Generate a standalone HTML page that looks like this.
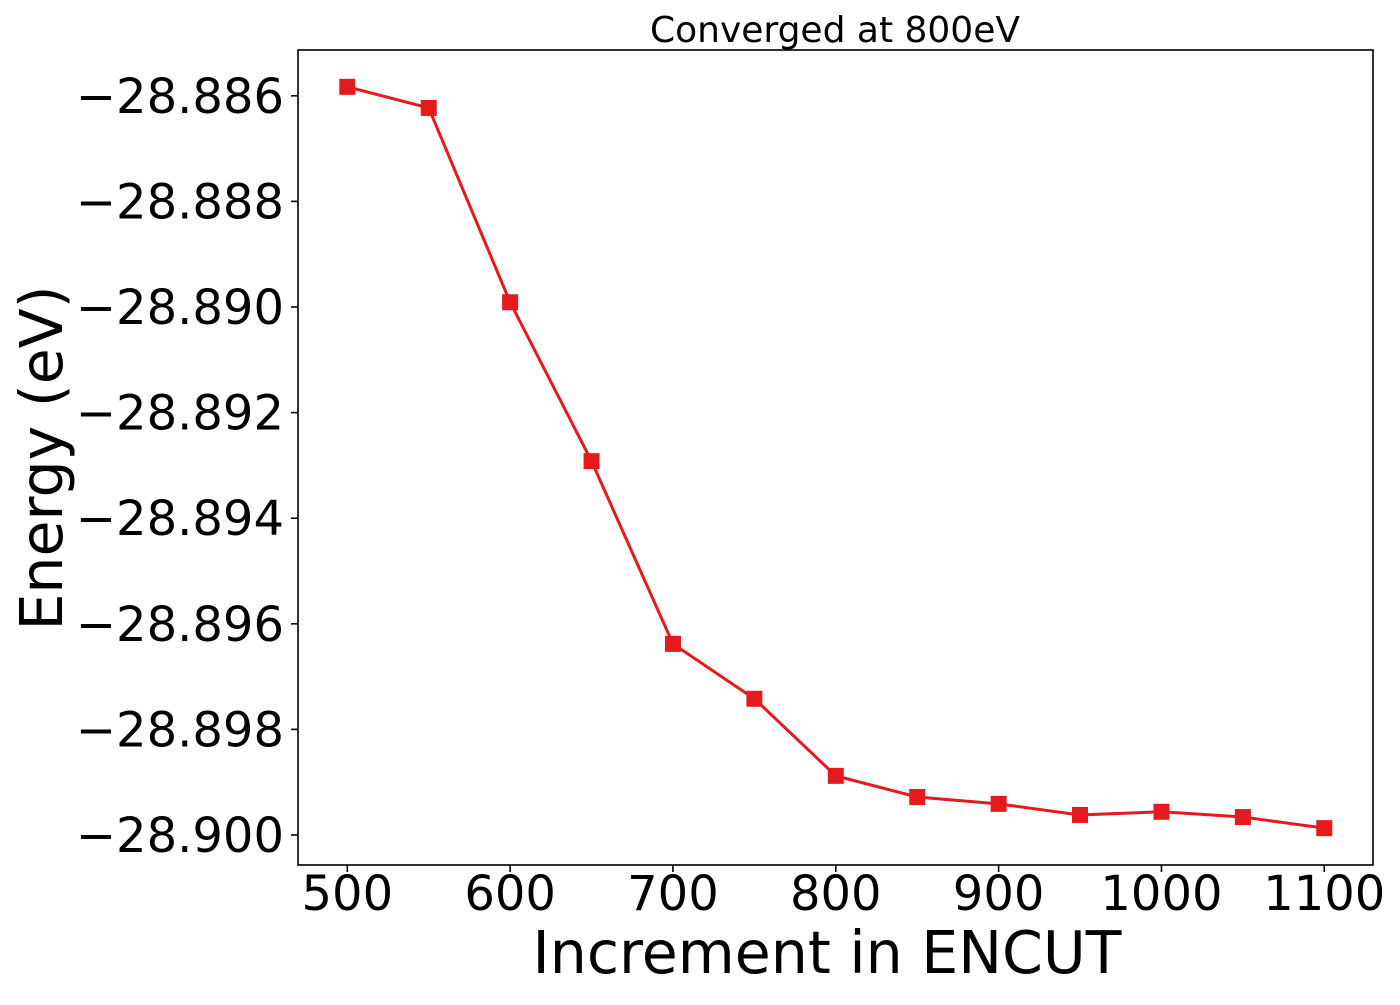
<!DOCTYPE html>
<html><head><meta charset="utf-8"><style>
html,body{margin:0;padding:0;background:#fff;}
svg text{font-family:"DejaVu Sans","Liberation Sans",sans-serif;fill:#000;}
</style></head><body>
<svg id="chart" width="1400" height="1000" xmlns="http://www.w3.org/2000/svg">
<text x="835" y="42" font-size="36" text-anchor="middle">Converged at 800eV</text>
<text x="827" y="973" font-size="58.5" text-anchor="middle">Increment in ENCUT</text>
<text transform="translate(62,458) rotate(-90)" font-size="58.5" text-anchor="middle">Energy (eV)</text>
<g id="xticks"></g>
<g id="yticks"></g>
<g id="series"></g>
<rect x="298" y="50" width="1075" height="815" fill="none" stroke="#000" stroke-width="1.6"/>
</svg>
<script>
const encut = [500,550,600,650,700,750,800,850,900,950,1000,1050,1100];
const energy = [-28.88583,-28.88623,-28.88991,-28.89292,-28.89638,-28.89742,-28.89888,-28.89928,-28.89941,-28.89962,-28.89956,-28.89966,-28.89987];
const xTicks = [500,600,700,800,900,1000,1100];
const yTicks = [-28.886,-28.888,-28.890,-28.892,-28.894,-28.896,-28.898,-28.900];
const yTickLabels = ["\u221228.886","\u221228.888","\u221228.890","\u221228.892","\u221228.894","\u221228.896","\u221228.898","\u221228.900"];
const NS="http://www.w3.org/2000/svg";
function xs(v){return 347.3+(v-500)*1.6283;}
function ys(v){return 835+(v+28.900)/0.002*(-105.6);}
const xg=document.getElementById('xticks'), yg=document.getElementById('yticks'), sg=document.getElementById('series');
xTicks.forEach(t=>{
  const l=document.createElementNS(NS,'line');
  l.setAttribute('x1',xs(t));l.setAttribute('x2',xs(t));l.setAttribute('y1',865);l.setAttribute('y2',872);l.setAttribute('stroke','#000');l.setAttribute('stroke-width','1.6');
  
  
  xg.appendChild(l);
  const tx=document.createElementNS(NS,'text');
  tx.setAttribute('x',xs(t));tx.setAttribute('y',910);tx.setAttribute('font-size','48');tx.setAttribute('text-anchor','middle');
  tx.textContent=t;
  
  
  xg.appendChild(tx);
});
yTicks.forEach((t,i)=>{
  const l=document.createElementNS(NS,'line');
  l.setAttribute('x1',291);l.setAttribute('x2',298);l.setAttribute('y1',ys(t));l.setAttribute('y2',ys(t));l.setAttribute('stroke','#000');l.setAttribute('stroke-width','1.6');
  
  
  yg.appendChild(l);
  const tx=document.createElementNS(NS,'text');
  tx.setAttribute('x',284);tx.setAttribute('y',ys(t)+17);tx.setAttribute('font-size','48');tx.setAttribute('text-anchor','end');
  tx.textContent=yTickLabels[i];
  
  
  yg.appendChild(tx);
});
const pl=document.createElementNS(NS,'polyline');
pl.setAttribute('points',encut.map((e,i)=>xs(e)+','+ys(energy[i])).join(' '));
pl.setAttribute('fill','none');pl.setAttribute('stroke','#e41a1c');pl.setAttribute('stroke-width','3');


sg.appendChild(pl);
encut.forEach((e,i)=>{
  const r=document.createElementNS(NS,'rect');
  r.setAttribute('x',xs(e)-8);r.setAttribute('y',ys(energy[i])-8);r.setAttribute('width',16);r.setAttribute('height',16);r.setAttribute('fill','#e41a1c');
  
  
  sg.appendChild(r);
});
</script>
</body></html>
